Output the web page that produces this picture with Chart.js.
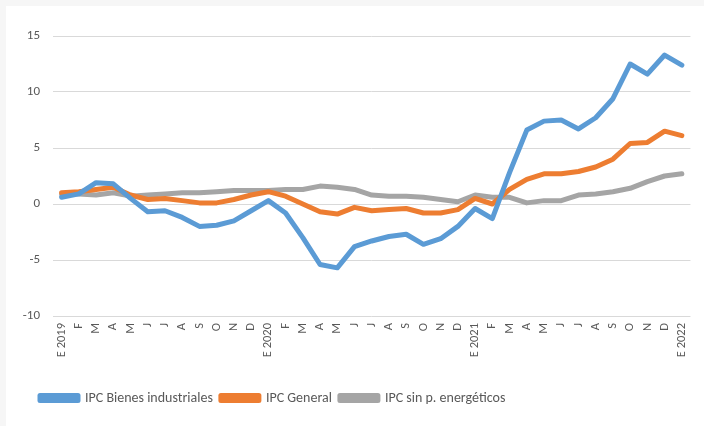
<!DOCTYPE html>
<html>
<head>
<meta charset="utf-8">
<script src="https://cdn.jsdelivr.net/npm/chart.js@4"></script>
<style>
  html, body { margin: 0; padding: 0; background: #f6f6f6; }
  #wrap { position: absolute; left: 6px; top: 6px; width: 698px; height: 420px; background: #ffffff; }
  canvas { display: block; }
</style>
</head>
<body>
<div id="wrap"><canvas id="c" width="698" height="420"></canvas></div>
<script>
const categories = ['E 2019','F','M','A','M','J','J','A','S','O','N','D',
  'E 2020','F','M','A','M','J','J','A','S','O','N','D',
  'E 2021','F','M','A','M','J','J','A','S','O','N','D','E 2022'];

const bienesIndustriales = [0.6, 0.9, 1.9, 1.8, 0.5, -0.7, -0.6, -1.2, -2.0, -1.9, -1.5, -0.6,
  0.3, -0.8, -3.0, -5.4, -5.7, -3.8, -3.3, -2.9, -2.7, -3.6, -3.1, -2.0,
  -0.4, -1.3, 2.8, 6.6, 7.4, 7.5, 6.7, 7.7, 9.4, 12.5, 11.6, 13.3, 12.4];

const general = [1.0, 1.1, 1.3, 1.5, 0.8, 0.4, 0.5, 0.3, 0.1, 0.1, 0.4, 0.8,
  1.1, 0.7, 0.0, -0.7, -0.9, -0.3, -0.6, -0.5, -0.4, -0.8, -0.8, -0.5,
  0.5, 0.0, 1.3, 2.2, 2.7, 2.7, 2.9, 3.3, 4.0, 5.4, 5.5, 6.5, 6.1];

const sinEnergeticos = [0.9, 0.9, 0.8, 1.0, 0.7, 0.8, 0.9, 1.0, 1.0, 1.1, 1.2, 1.2,
  1.2, 1.3, 1.3, 1.6, 1.5, 1.3, 0.8, 0.7, 0.7, 0.6, 0.4, 0.2,
  0.8, 0.6, 0.6, 0.1, 0.3, 0.3, 0.8, 0.9, 1.1, 1.4, 2.0, 2.5, 2.7];

const yTicks = [-10, -5, 0, 5, 10, 15];

const FONT = "Carlito, 'Liberation Sans Narrow', Lato, sans-serif";
const TEXT = '#595959';

function ds(label, data, color) {
  return { label, data, borderColor: color, backgroundColor: color, borderWidth: 5,
    pointRadius: 0, pointHoverRadius: 0, tension: 0, fill: false,
    borderJoinStyle: 'round', borderCapStyle: 'round' };
}

// let the y tick labels extend into the left padding without being clipped
const unclipY = {
  id: 'unclipY',
  afterLayout(chart) { chart.scales.y.left = 0; }
};

new Chart(document.getElementById('c'), {
  type: 'line',
  data: {
    labels: categories,
    datasets: [
      ds('IPC Bienes industriales', bienesIndustriales, '#5b9bd5'),
      ds('IPC General', general, '#ed7d31'),
      ds('IPC sin p. energéticos', sinEnergeticos, '#a5a5a5')
    ]
  },
  plugins: [unclipY],
  options: {
    responsive: false,
    animation: false,
    layout: { padding: { left: 26, top: 30, right: 12, bottom: 11 } },
    plugins: {
      tooltip: { enabled: false },
      legend: {
        position: 'bottom',
        align: 'start',
        labels: {
          boxWidth: 38, boxHeight: 5, padding: 8,
          color: TEXT,
          font: { family: FONT, size: 14 }
        }
      }
    },
    scales: {
      x: {
        offset: true,
        grid: { display: false, drawTicks: false },
        border: { display: false },
        ticks: {
          autoSkip: false, maxRotation: 90, minRotation: 90, padding: 7,
          color: TEXT, font: { family: FONT, size: 12.5 }
        },
        afterFit: s => { s.height = 67; }
      },
      y: {
        min: -10, max: 15,
        afterBuildTicks: s => { s.ticks = yTicks.map(v => ({ value: v })); },
        grid: { color: '#d9d9d9', lineWidth: 1, drawTicks: false },
        border: { display: false },
        ticks: { padding: 13, color: TEXT, font: { family: FONT, size: 13 },
          callback: v => String(v) },
        afterFit: s => { s.width = 21; }
      }
    }
  }
});
</script>
</body>
</html>
